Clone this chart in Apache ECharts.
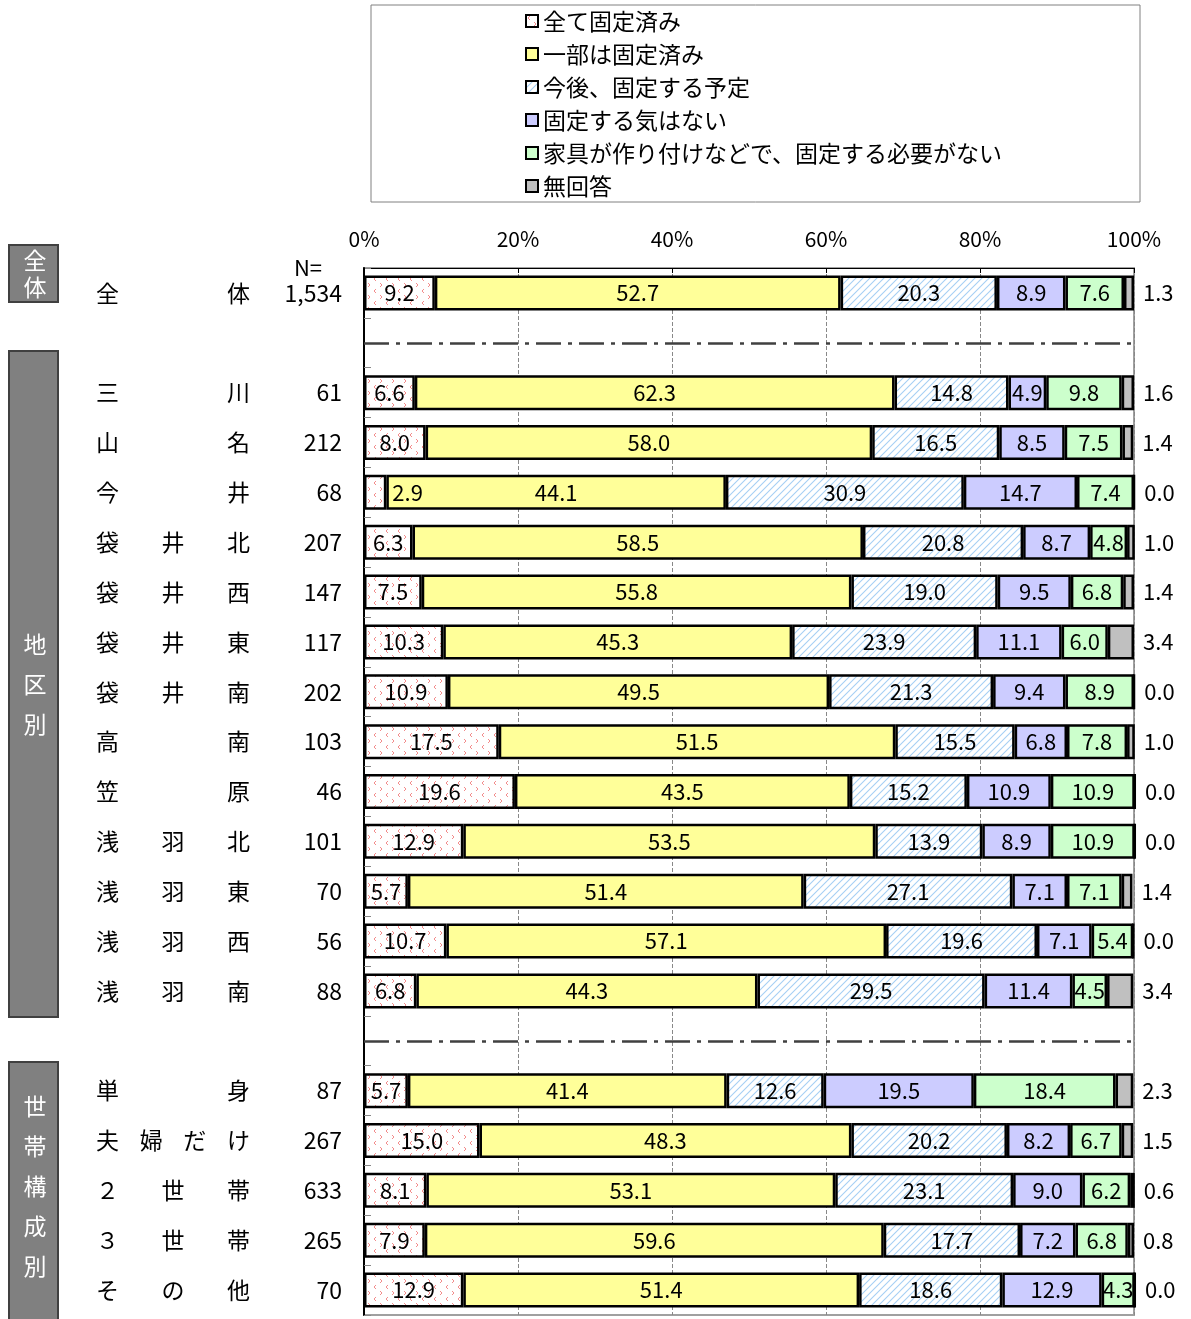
<!DOCTYPE html>
<html><head><meta charset="utf-8">
<script src="https://cdn.jsdelivr.net/npm/echarts@6/dist/echarts.min.js"></script>
<style>html,body{margin:0;padding:0;background:#fff}#c{width:1191px;height:1319px}</style>
</head><body><div id="c"></div>
<script>
// ---------- data ----------
const categories = ['全体','','三川','山名','今井','袋井北','袋井西','袋井東','袋井南','高南','笠原','浅羽北','浅羽東','浅羽西','浅羽南','','単身','夫婦だけ','２世帯','３世帯','その他'];
const nLabels = ['1,534','','61','212','68','207','147','117','202','103','46','101','70','56','88','','87','267','633','265','70'];
const seriesNames = ['全て固定済み','一部は固定済み','今後、固定する予定','固定する気はない','家具が作り付けなどで、固定する必要がない','無回答'];
const allFixed   = [9.2, null, 6.6, 8.0, 2.9, 6.3, 7.5, 10.3, 10.9, 17.5, 19.6, 12.9, 5.7, 10.7, 6.8, null, 5.7, 15.0, 8.1, 7.9, 12.9];
const partFixed  = [52.7, null, 62.3, 58.0, 44.1, 58.5, 55.8, 45.3, 49.5, 51.5, 43.5, 53.5, 51.4, 57.1, 44.3, null, 41.4, 48.3, 53.1, 59.6, 51.4];
const willFix    = [20.3, null, 14.8, 16.5, 30.9, 20.8, 19.0, 23.9, 21.3, 15.5, 15.2, 13.9, 27.1, 19.6, 29.5, null, 12.6, 20.2, 23.1, 17.7, 18.6];
const noIntent   = [8.9, null, 4.9, 8.5, 14.7, 8.7, 9.5, 11.1, 9.4, 6.8, 10.9, 8.9, 7.1, 7.1, 11.4, null, 19.5, 8.2, 9.0, 7.2, 12.9];
const notNeeded  = [7.6, null, 9.8, 7.5, 7.4, 4.8, 6.8, 6.0, 8.9, 7.8, 10.9, 10.9, 7.1, 5.4, 4.5, null, 18.4, 6.7, 6.2, 6.8, 4.3];
const noAnswer   = [1.3, null, 1.6, 1.4, 0.0, 1.0, 1.4, 3.4, 0.0, 1.0, 0.0, 0.0, 1.4, 0.0, 3.4, null, 2.3, 1.5, 0.6, 0.8, 0.0];
const separatorRows = [1, 15];
const xTickValues = [0, 20, 40, 60, 80, 100];
const groups = [
  {label: '全\n体', from: 0, to: 0},
  {label: '地\n区\n別', from: 2, to: 14},
  {label: '世\n帯\n構\n成\n別', from: 16, to: 20}
];

// ---------- layout ----------
const FONT = '"Noto Sans CJK JP", "Noto Sans", sans-serif';
const G = {left: 364, top: 268, right: 57, bottom: 4};
const W = 1191, H = 1319;
const rowH = (H - G.top - G.bottom) / categories.length;

// patterns
function makePattern(kind) {
  const c = document.createElement('canvas');
  const ctx = c.getContext('2d');
  if (kind === 'dots') {
    c.width = 12; c.height = 12;
    ctx.fillStyle = '#fff'; ctx.fillRect(0, 0, 12, 12);
    ctx.strokeStyle = '#f28c8c'; ctx.lineWidth = 1;
    ctx.beginPath(); ctx.moveTo(4, 1); ctx.lineTo(2, 3); ctx.lineTo(4, 5); ctx.stroke();
    ctx.beginPath(); ctx.moveTo(8, 7); ctx.lineTo(10, 9); ctx.lineTo(8, 11); ctx.stroke();
  } else {
    c.width = 7; c.height = 7;
    ctx.fillStyle = '#fff'; ctx.fillRect(0, 0, 7, 7);
    ctx.strokeStyle = '#a6cff4'; ctx.lineWidth = 1.1;
    ctx.beginPath();
    ctx.moveTo(0, 7); ctx.lineTo(7, 0);
    ctx.moveTo(-1, 1); ctx.lineTo(1, -1);
    ctx.moveTo(6, 8); ctx.lineTo(8, 6);
    ctx.stroke();
  }
  return {image: c, repeat: 'repeat'};
}

const colors = [makePattern('dots'), '#ffff99', makePattern('hatch'), '#ccccff', '#ccffcc', '#c0c0c0'];
const dataSets = [allFixed, partFixed, willFix, noIntent, notNeeded, noAnswer];

const labelBase = {show: true, color: '#000', fontSize: 22, fontFamily: FONT,
  formatter: p => (p.value == null ? '' : Number(p.value).toFixed(1))};

const series = dataSets.map((arr, si) => {
  const s = {
    name: seriesNames[si],
    type: 'bar',
    stack: 'total',
    barWidth: 35,
    clip: false,
    itemStyle: {color: colors[si], borderColor: '#000', borderWidth: 2.5},
    label: Object.assign({}, labelBase, si === 5 ? {position: 'right', distance: 9} : {position: 'inside'}),
    data: arr.map(v => {
      if (si === 0 && v != null && v < 3.5) return {value: v, label: {position: 'right', distance: 6}};
      return v;
    })
  };
  if (si === 0) {
    s.markLine = {
      silent: true, symbol: 'none', animation: false,
      label: {show: false},
      lineStyle: {color: '#404040', width: 2.5, type: [25, 7, 4, 7]},
      data: separatorRows.map(r => ({yAxis: r}))
    };
  }
  return s;
});

// category label rich text
const nameSpan = 155, charW = 24;
const rich = {
  c: {width: charW, fontSize: 23, fontFamily: FONT, color: '#000'},
  n: {width: 92, align: 'right', fontSize: 23, fontFamily: FONT, color: '#000'}
};
[2, 3, 4, 5].forEach(k => { rich['g' + k] = {width: (nameSpan - k * charW) / (k - 1), fontSize: 23}; });

function catLabel(value, idx) {
  const name = categories[idx];
  if (!name) return '';
  const chars = Array.from(name);
  const k = chars.length;
  return chars.map(ch => '{c|' + ch + '}').join('{g' + k + '| }') + '{n|' + nLabels[idx] + '}';
}

// graphics: group boxes, legend frame, N=
const graphics = [
  {type: 'rect', shape: {x: 371, y: 5, width: 769, height: 197}, style: {fill: '#fff', stroke: '#808080', lineWidth: 1}, z: 0}
];
const boxTops = {0: 245, 1: 351, 2: 1062};
const boxBottoms = {0: 302, 1: 1017, 2: 1340};
groups.forEach((g, gi) => {
  const y0 = boxTops[gi], y1 = boxBottoms[gi];
  graphics.push({type: 'rect', shape: {x: 9, y: y0, width: 49, height: y1 - y0},
    style: {fill: '#808080', stroke: '#404040', lineWidth: 2}, z: 1});
  const cy = gi === 2 ? G.top + (g.from + g.to + 1) / 2 * rowH - 4 : (gi === 0 ? (y0 + y1) / 2 : G.top + (g.from + g.to + 1) / 2 * rowH - 8);
  graphics.push({type: 'text', x: 35, y: cy, z: 2,
    style: {text: g.label, fill: '#fff', font: '23px ' + FONT, align: 'center', verticalAlign: 'middle',
      lineHeight: gi === 0 ? 27 : 40}});
});
graphics.push({type: 'text', x: 322, y: G.top, z: 2,
  style: {text: 'N=', fill: '#000', font: '22px ' + FONT, align: 'right', verticalAlign: 'middle'}});

const chart = echarts.init(document.getElementById('c'), null, {renderer: 'canvas'});
chart.setOption({
  animation: false,
  backgroundColor: '#fff',
  textStyle: {fontFamily: FONT},
  graphic: graphics,
  legend: {
    orient: 'vertical', left: 525, top: 9, padding: 0,
    itemWidth: 12, itemHeight: 12, itemGap: 9, icon: 'rect',
    itemStyle: {borderWidth: 2, borderColor: '#000'},
    textStyle: {fontSize: 23, lineHeight: 24, color: '#000', fontFamily: FONT},
    selectedMode: false,
    data: seriesNames
  },
  grid: {left: G.left, top: G.top, right: G.right, bottom: G.bottom, show: true,
    borderColor: '#a0a0a0', borderWidth: 2, backgroundColor: 'transparent', containLabel: false},
  xAxis: {
    type: 'value', position: 'top', min: xTickValues[0], max: xTickValues[xTickValues.length - 1],
    interval: xTickValues[1] - xTickValues[0],
    axisLine: {show: true, lineStyle: {color: '#000', width: 1}},
    axisTick: {show: true, inside: true, length: 5, lineStyle: {color: '#000'}},
    axisLabel: {formatter: '{value}%', fontSize: 21, color: '#000', margin: 18, fontFamily: FONT},
    splitLine: {show: true, lineStyle: {color: '#888', type: 'dashed', width: 1}}
  },
  yAxis: {
    type: 'category', inverse: true, data: categories,
    axisLine: {show: true, lineStyle: {color: '#000', width: 2}},
    axisTick: {show: true, inside: true, length: 7, lineStyle: {color: '#888'}},
    axisLabel: {margin: 22, align: 'right', formatter: catLabel, rich: rich, interval: 0},
    splitLine: {show: false}
  },
  series: series
});
</script></body></html>
